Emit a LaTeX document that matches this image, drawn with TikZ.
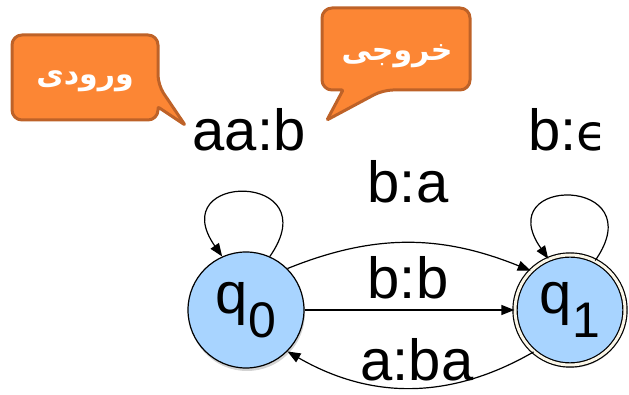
\documentclass[tikz,border=0pt]{standalone}
\usepackage{fontspec}
\setmainfont{Liberation Sans}
\newfontfamily\persianfont[Script=Arabic]{DejaVu Sans}
\newfontfamily\symbfont{DejaVu Sans}
\TeXXeTstate=1
\usetikzlibrary{arrows.meta,shadows}
\definecolor{bubblefill}{RGB}{252,134,52}
\definecolor{bubbleline}{RGB}{190,98,40}
\definecolor{statefill}{RGB}{168,212,255}
\definecolor{ringgap}{RGB}{250,246,232}

\begin{document}
\begin{tikzpicture}[x=1pt,y=1pt,
  statenode/.style={circle,draw,line width=1.2pt,fill=statefill,minimum size=116pt,inner sep=0pt,
    font=\fontsize{58}{58}\selectfont,
    drop shadow={shadow xshift=1pt,shadow yshift=-3pt,opacity=0.35}},
  finalstate/.style={double=ringgap,double distance=3pt,minimum size=110pt},
  trans/.style={line width=1.2pt,-{Triangle[length=13pt,width=10pt]}},
  lbl/.style={font=\fontsize{58}{58}\selectfont,inner sep=0pt},
  bubble/.style={fill=bubblefill,draw=bubbleline,line width=3pt,line join=round},
  bubbletext/.style={text=white,font=\persianfont\bfseries\fontsize{30}{30}\selectfont}]
\useasboundingbox (0,0) rectangle (629,395);

% speech bubbles
\draw[bubble] (12,318) [rounded corners=10pt] -- (12,360) -- (158,360) -- (158,310)
  [rounded corners=1pt] -- (185,270) -- (158,288) [rounded corners=10pt] -- (158,275) -- (12,275) -- cycle;
\node[bubbletext] (inword) at (85,314) {\beginR ورودی\endR};

\draw[bubble] (396,387) [rounded corners=10pt] -- (470,387) -- (470,305) -- (383,305)
  [rounded corners=1pt] -- (327,275) -- (343,305) [rounded corners=10pt] -- (322,305) -- (322,387) -- cycle;
\node[bubbletext] (outword) at (397,339) {\beginR خروجی\endR};

% states
\node[statenode] (q0) at (246,85) {q\raisebox{-24pt}{\fontsize{50}{50}\selectfont 0}};
\node[statenode,finalstate] (q1) at (570,85) {q\raisebox{-24pt}{\fontsize{50}{50}\selectfont 1}};

% transitions
\draw[trans] (q0.66) to[out=55,in=125,looseness=5.6] (q0.114);
\draw[trans] (q1.63) to[out=55,in=125,looseness=5.6] (q1.113);
\draw[trans] (q0.45) to[out=22,in=158] (q1.135);
\draw[trans] (q0) -- (q1);
\draw[trans] (q1.229) to[out=210,in=330] (q0.315);

\node[lbl] (loop0) at (249,265) {aa:b};
\node[lbl] (loop1) at (568,265) {b:{\symbfont\fontsize{50}{50}\selectfont ϵ}};
\node[lbl] (upper) at (408,213) {b:a};
\node[lbl] (middle) at (408,117) {b:b};
\node[lbl] (lower) at (417,35) {a:ba};
\end{tikzpicture}
\end{document}
